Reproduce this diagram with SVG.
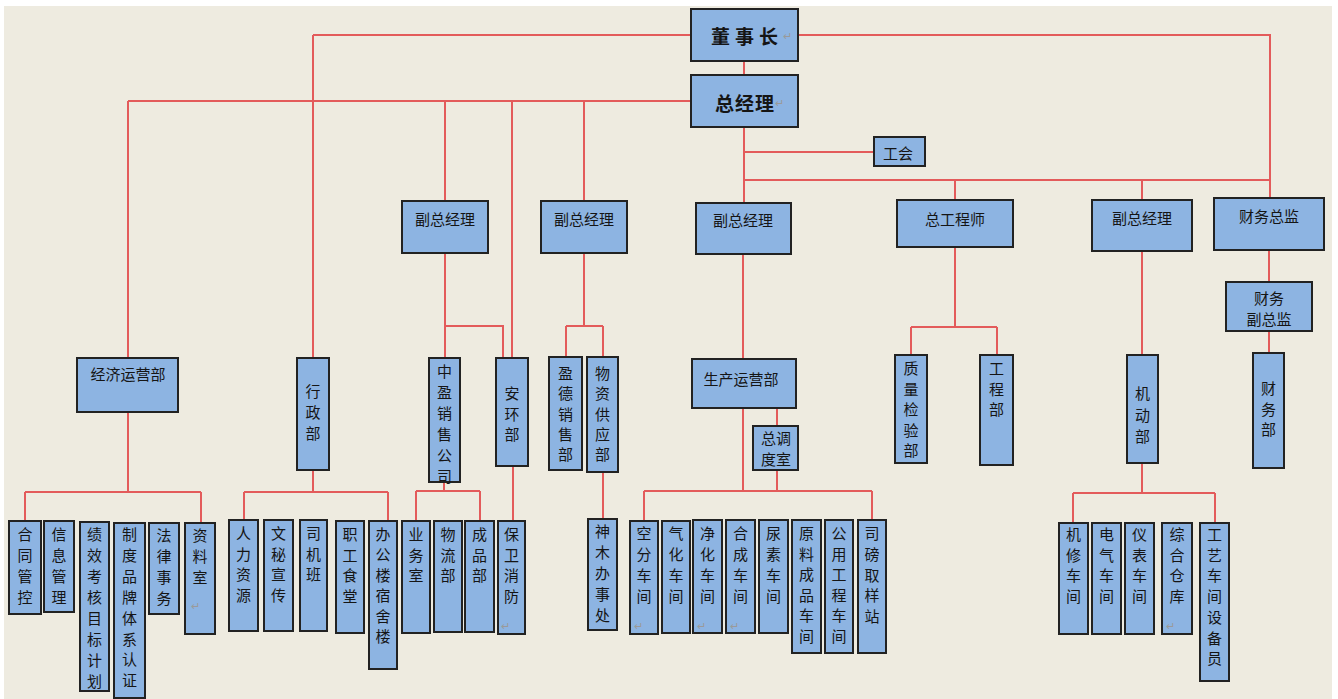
<svg xmlns="http://www.w3.org/2000/svg" width="1338" height="699" viewBox="0 0 1338 699">
<style>
.box{fill:#8DB4E2;stroke:#222;stroke-width:2}
.t{font-family:"Noto Sans CJK SC","Noto Sans",sans-serif;font-size:15px;fill:#151515;text-anchor:middle;dominant-baseline:central}
.big{font-size:19px;text-anchor:start;font-weight:bold}
.c{fill:none;stroke:#E35B5B;stroke-width:2}
.ret{fill:#9a9a9a;font-size:11px;font-weight:normal}
</style>
<rect width="1338" height="699" fill="#ffffff"/>
<rect x="4" y="6" width="1328" height="693" fill="#EEEBE0"/>
<g id="connectors">
<path class="c" d="M313 35H691M798 35H1270V198M313 35V358M744 61V75"/>
<path class="c" d="M128 101H691M128 101V358M445 101V201M512 101V358M584 101V201"/>
<path class="c" d="M744 127V203M744 152H874M744 180H1270M955 180V200M1142 180V200"/>
<path class="c" d="M445 253V358M445 326H503V358M584 253V326M566 326H603M566 326V357M603 326V357"/>
<path class="c" d="M743 254V359M743 408V491M777 408V426M777 470V491"/>
<path class="c" d="M955 247V327M911 327H997M911 327V355M997 327V355"/>
<path class="c" d="M1142 251V355M1142 463V493M1269 250V282M1269 331V353"/>
<path class="c" d="M128 412V492M25 492H201M25 492V521M201 492V523"/>
<path class="c" d="M313 470V492M244 492H388M244 492V520M388 492V521"/>
<path class="c" d="M444 482V491M416 491H480M416 491V521M480 491V521M513 466V521M603 472V519"/>
<path class="c" d="M644 491H872M644 491V521M872 491V520M1073 493H1215M1073 493V523M1215 493V523"/>
</g>
<g id="n_dongshizhang"><rect class="box" x="691" y="9" width="107" height="52"/><text class="t big" x="711" y="35" letter-spacing="5">董事长<tspan class="ret">↵</tspan></text></g>
<g id="n_zongjingli"><rect class="box" x="691" y="75" width="107" height="52"/><text class="t big" x="715" y="102" letter-spacing="1">总经理<tspan class="ret">↵</tspan></text></g>
<g id="n_gonghui"><rect class="box" x="874" y="137" width="51" height="29"/><text class="t" x="898" y="152" font-size="14">工会</text></g>
<g id="n_fzjl1"><rect class="box" x="402" y="201" width="86" height="52"/><text class="t" x="445" y="218">副总经理</text></g>
<g id="n_fzjl2"><rect class="box" x="541" y="201" width="86" height="52"/><text class="t" x="584" y="218">副总经理</text></g>
<g id="n_fzjl3"><rect class="box" x="696" y="203" width="95" height="51"/><text class="t" x="743" y="219">副总经理</text></g>
<g id="n_zgcs"><rect class="box" x="897" y="200" width="116" height="47"/><text class="t" x="955" y="218">总工程师</text></g>
<g id="n_fzjl4"><rect class="box" x="1092" y="200" width="100" height="51"/><text class="t" x="1142" y="217">副总经理</text></g>
<g id="n_cwzj"><rect class="box" x="1214" y="198" width="110" height="52"/><text class="t" x="1269" y="215">财务总监</text></g>
<g id="n_cwfzj"><rect class="box" x="1226" y="282" width="86" height="49"/><text class="t" x="1269" y="297">财务</text><text class="t" x="1269" y="318">副总监</text></g>
<g id="n_jjyyb"><rect class="box" x="77" y="358" width="101" height="54"/><text class="t" x="128" y="373">经济运营部</text></g>
<g id="n_xzb"><rect class="box" x="297" y="358" width="32" height="112"/><text class="t" x="313" y="390">行<tspan x="313" dy="21">政</tspan><tspan x="313" dy="21">部</tspan></text></g>
<g id="n_zyxsgs"><rect class="box" x="429" y="358" width="31" height="124"/><text class="t" x="444.5" y="370">中<tspan x="444.5" dy="21">盈</tspan><tspan x="444.5" dy="21">销</tspan><tspan x="444.5" dy="21">售</tspan><tspan x="444.5" dy="21">公</tspan><tspan x="444.5" dy="21">司</tspan></text></g>
<g id="n_ahb"><rect class="box" x="496" y="358" width="32" height="108"/><text class="t" x="512" y="392">安<tspan x="512" dy="20.5">环</tspan><tspan x="512" dy="20.5">部</tspan></text></g>
<g id="n_ydxsb"><rect class="box" x="549" y="357" width="33" height="113"/><text class="t" x="565.5" y="372">盈<tspan x="565.5" dy="20.3">德</tspan><tspan x="565.5" dy="20.3">销</tspan><tspan x="565.5" dy="20.3">售</tspan><tspan x="565.5" dy="20.3">部</tspan></text></g>
<g id="n_wzgyb"><rect class="box" x="587" y="357" width="31" height="115"/><text class="t" x="602.5" y="372">物<tspan x="602.5" dy="20.3">资</tspan><tspan x="602.5" dy="20.3">供</tspan><tspan x="602.5" dy="20.3">应</tspan><tspan x="602.5" dy="20.3">部</tspan></text></g>
<g id="n_scyyb"><rect class="box" x="692" y="359" width="104" height="49"/><text class="t" x="741" y="378">生产运营部</text></g>
<g id="n_zdds"><rect class="box" x="753" y="426" width="45" height="44"/><text class="t" x="776" y="437">总调</text><text class="t" x="776" y="458">度室</text></g>
<g id="n_zljyb"><rect class="box" x="895" y="355" width="32" height="108"/><text class="t" x="911" y="367">质<tspan x="911" dy="20.5">量</tspan><tspan x="911" dy="20.5">检</tspan><tspan x="911" dy="20.5">验</tspan><tspan x="911" dy="20.5">部</tspan></text></g>
<g id="n_gcb"><rect class="box" x="980" y="355" width="33" height="110"/><text class="t" x="996.5" y="367">工<tspan x="996.5" dy="20.5">程</tspan><tspan x="996.5" dy="20.5">部</tspan></text></g>
<g id="n_jdb"><rect class="box" x="1127" y="355" width="31" height="108"/><text class="t" x="1142.5" y="392">机<tspan x="1142.5" dy="21.5">动</tspan><tspan x="1142.5" dy="21.5">部</tspan></text></g>
<g id="n_cwb"><rect class="box" x="1253" y="353" width="31" height="115"/><text class="t" x="1268.5" y="387">财<tspan x="1268.5" dy="20.5">务</tspan><tspan x="1268.5" dy="20.5">部</tspan></text></g>
<g id="n_htgk"><rect class="box" x="9" y="521" width="32" height="93"/><text class="t" x="25" y="533">合<tspan x="25" dy="21">同</tspan><tspan x="25" dy="21">管</tspan><tspan x="25" dy="21">控</tspan></text></g>
<g id="n_xxgl"><rect class="box" x="44" y="521" width="30" height="91"/><text class="t" x="59" y="533">信<tspan x="59" dy="21">息</tspan><tspan x="59" dy="21">管</tspan><tspan x="59" dy="21">理</tspan></text></g>
<g id="n_jxkh"><rect class="box" x="80" y="522" width="29" height="169"/><text class="t" x="94.5" y="533">绩<tspan x="94.5" dy="21">效</tspan><tspan x="94.5" dy="21">考</tspan><tspan x="94.5" dy="21">核</tspan><tspan x="94.5" dy="21">目</tspan><tspan x="94.5" dy="21">标</tspan><tspan x="94.5" dy="21">计</tspan><tspan x="94.5" dy="21">划</tspan></text></g>
<g id="n_zdpp"><rect class="box" x="114" y="523" width="31" height="175"/><text class="t" x="129.5" y="533">制<tspan x="129.5" dy="20.9">度</tspan><tspan x="129.5" dy="20.9">品</tspan><tspan x="129.5" dy="20.9">牌</tspan><tspan x="129.5" dy="20.9">体</tspan><tspan x="129.5" dy="20.9">系</tspan><tspan x="129.5" dy="20.9">认</tspan><tspan x="129.5" dy="20.9">证</tspan></text></g>
<g id="n_flsw"><rect class="box" x="149" y="523" width="30" height="91"/><text class="t" x="164" y="534">法<tspan x="164" dy="21">律</tspan><tspan x="164" dy="21">事</tspan><tspan x="164" dy="21">务</tspan></text></g>
<g id="n_zls"><rect class="box" x="185" y="523" width="30" height="111"/><text class="t" x="200" y="534">资<tspan x="200" dy="21">料</tspan><tspan x="200" dy="21">室</tspan></text><text class="t ret" x="195" y="605">↵</text></g>
<g id="n_rlzy"><rect class="box" x="229" y="520" width="29" height="111"/><text class="t" x="243.5" y="532">人<tspan x="243.5" dy="20.5">力</tspan><tspan x="243.5" dy="20.5">资</tspan><tspan x="243.5" dy="20.5">源</tspan></text></g>
<g id="n_wmxc"><rect class="box" x="264" y="520" width="29" height="111"/><text class="t" x="278.5" y="532">文<tspan x="278.5" dy="20.5">秘</tspan><tspan x="278.5" dy="20.5">宣</tspan><tspan x="278.5" dy="20.5">传</tspan></text></g>
<g id="n_sjb"><rect class="box" x="300" y="520" width="27" height="111"/><text class="t" x="313.5" y="532">司<tspan x="313.5" dy="20.5">机</tspan><tspan x="313.5" dy="20.5">班</tspan></text></g>
<g id="n_zgst"><rect class="box" x="336" y="521" width="28" height="112"/><text class="t" x="350" y="533">职<tspan x="350" dy="20.5">工</tspan><tspan x="350" dy="20.5">食</tspan><tspan x="350" dy="20.5">堂</tspan></text></g>
<g id="n_bgl"><rect class="box" x="369" y="521" width="28" height="148"/><text class="t" x="383" y="533">办<tspan x="383" dy="20.4">公</tspan><tspan x="383" dy="20.4">楼</tspan><tspan x="383" dy="20.4">宿</tspan><tspan x="383" dy="20.4">舍</tspan><tspan x="383" dy="20.4">楼</tspan></text></g>
<g id="n_yws"><rect class="box" x="402" y="521" width="28" height="112"/><text class="t" x="416" y="533">业<tspan x="416" dy="20.5">务</tspan><tspan x="416" dy="20.5">室</tspan></text></g>
<g id="n_wlb"><rect class="box" x="434" y="521" width="28" height="111"/><text class="t" x="448" y="533">物<tspan x="448" dy="20.5">流</tspan><tspan x="448" dy="20.5">部</tspan></text></g>
<g id="n_cpb"><rect class="box" x="465" y="521" width="29" height="111"/><text class="t" x="479.5" y="533">成<tspan x="479.5" dy="20.5">品</tspan><tspan x="479.5" dy="20.5">部</tspan></text></g>
<g id="n_bwxf"><rect class="box" x="498" y="521" width="27" height="113"/><text class="t" x="511.5" y="533">保<tspan x="511.5" dy="20.5">卫</tspan><tspan x="511.5" dy="20.5">消</tspan><tspan x="511.5" dy="20.5">防</tspan></text><text class="t ret" x="505" y="625">↵</text></g>
<g id="n_smbsc"><rect class="box" x="588" y="519" width="29" height="111"/><text class="t" x="602.5" y="530">神<tspan x="602.5" dy="21">木</tspan><tspan x="602.5" dy="21">办</tspan><tspan x="602.5" dy="21">事</tspan><tspan x="602.5" dy="21">处</tspan></text></g>
<g id="n_kfcj"><rect class="box" x="630" y="521" width="28" height="113"/><text class="t" x="644" y="532">空<tspan x="644" dy="21">分</tspan><tspan x="644" dy="21">车</tspan><tspan x="644" dy="21">间</tspan></text><text class="t ret" x="638" y="625">↵</text></g>
<g id="n_qhcj"><rect class="box" x="662" y="521" width="28" height="112"/><text class="t" x="676" y="532">气<tspan x="676" dy="21">化</tspan><tspan x="676" dy="21">车</tspan><tspan x="676" dy="21">间</tspan></text></g>
<g id="n_jhcj"><rect class="box" x="693" y="520" width="29" height="113"/><text class="t" x="707.5" y="532">净<tspan x="707.5" dy="21">化</tspan><tspan x="707.5" dy="21">车</tspan><tspan x="707.5" dy="21">间</tspan></text><text class="t ret" x="701" y="625">↵</text></g>
<g id="n_hccj"><rect class="box" x="726" y="520" width="29" height="113"/><text class="t" x="740.5" y="532">合<tspan x="740.5" dy="21">成</tspan><tspan x="740.5" dy="21">车</tspan><tspan x="740.5" dy="21">间</tspan></text><text class="t ret" x="734" y="625">↵</text></g>
<g id="n_nscj"><rect class="box" x="759" y="520" width="29" height="113"/><text class="t" x="773.5" y="532">尿<tspan x="773.5" dy="21">素</tspan><tspan x="773.5" dy="21">车</tspan><tspan x="773.5" dy="21">间</tspan></text></g>
<g id="n_ylcp"><rect class="box" x="792" y="520" width="29" height="133"/><text class="t" x="806.5" y="532">原<tspan x="806.5" dy="20.6">料</tspan><tspan x="806.5" dy="20.6">成</tspan><tspan x="806.5" dy="20.6">品</tspan><tspan x="806.5" dy="20.6">车</tspan><tspan x="806.5" dy="20.6">间</tspan></text></g>
<g id="n_gygc"><rect class="box" x="825" y="520" width="28" height="133"/><text class="t" x="839" y="532">公<tspan x="839" dy="20.6">用</tspan><tspan x="839" dy="20.6">工</tspan><tspan x="839" dy="20.6">程</tspan><tspan x="839" dy="20.6">车</tspan><tspan x="839" dy="20.6">间</tspan></text></g>
<g id="n_sbqy"><rect class="box" x="858" y="520" width="28" height="133"/><text class="t" x="872" y="532">司<tspan x="872" dy="20.8">磅</tspan><tspan x="872" dy="20.8">取</tspan><tspan x="872" dy="20.8">样</tspan><tspan x="872" dy="20.8">站</tspan></text></g>
<g id="n_jxcj"><rect class="box" x="1059" y="523" width="29" height="111"/><text class="t" x="1073.5" y="533">机<tspan x="1073.5" dy="20.7">修</tspan><tspan x="1073.5" dy="20.7">车</tspan><tspan x="1073.5" dy="20.7">间</tspan></text></g>
<g id="n_dqcj"><rect class="box" x="1092" y="523" width="29" height="111"/><text class="t" x="1106.5" y="533">电<tspan x="1106.5" dy="20.7">气</tspan><tspan x="1106.5" dy="20.7">车</tspan><tspan x="1106.5" dy="20.7">间</tspan></text></g>
<g id="n_ybcj"><rect class="box" x="1125" y="523" width="29" height="111"/><text class="t" x="1139.5" y="533">仪<tspan x="1139.5" dy="20.7">表</tspan><tspan x="1139.5" dy="20.7">车</tspan><tspan x="1139.5" dy="20.7">间</tspan></text></g>
<g id="n_zhck"><rect class="box" x="1162" y="523" width="30" height="111"/><text class="t" x="1177" y="533">综<tspan x="1177" dy="20.7">合</tspan><tspan x="1177" dy="20.7">仓</tspan><tspan x="1177" dy="20.7">库</tspan></text><text class="t ret" x="1170" y="625">↵</text></g>
<g id="n_gysb"><rect class="box" x="1200" y="523" width="29" height="158"/><text class="t" x="1214.5" y="533">工<tspan x="1214.5" dy="20.7">艺</tspan><tspan x="1214.5" dy="20.7">车</tspan><tspan x="1214.5" dy="20.7">间</tspan><tspan x="1214.5" dy="20.7">设</tspan><tspan x="1214.5" dy="20.7">备</tspan><tspan x="1214.5" dy="20.7">员</tspan></text></g>
</svg>
